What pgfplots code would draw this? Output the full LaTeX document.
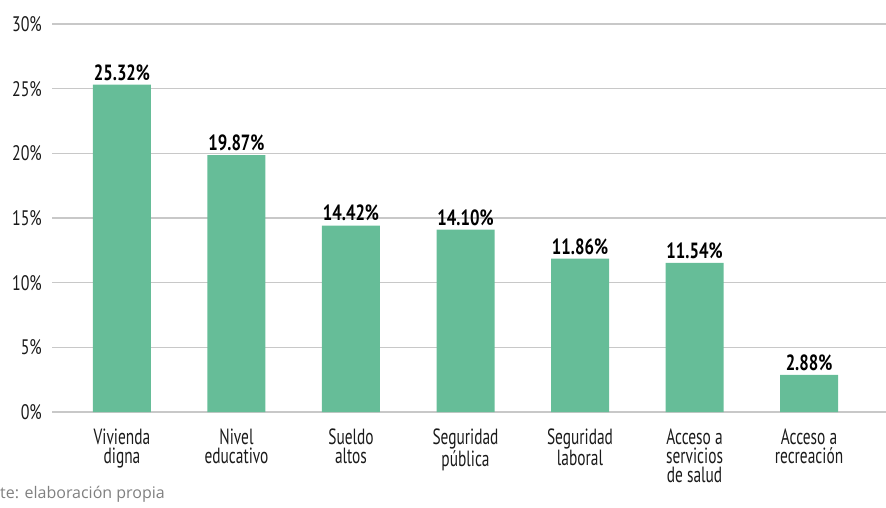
\documentclass[border=0pt]{standalone}
\usepackage{pgfplots}
\pgfplotsset{compat=1.18}
\usepackage{fontspec}
\setmainfont{PT Sans}[FakeStretch=0.76]
\newfontfamily\catfont{PT Sans}[FakeStretch=0.70]
\newfontfamily\footfont{Open Sans}
\definecolor{barcol}{HTML}{66BD98}
\definecolor{gridcol}{HTML}{C8C8C8}
\definecolor{footcol}{HTML}{808080}
\definecolor{txt}{HTML}{1A1A1A}
\newlength\fuenw
\begin{document}
\settowidth{\fuenw}{\footfont\fontsize{16}{18}\selectfont Fuen}%
\begin{tikzpicture}[x=1pt,y=1pt]
\useasboundingbox (0,0) rectangle (886,507);
\begin{axis}[
  at={(52pt,95pt)}, anchor=south west,
  scale only axis, width=834pt, height=388pt,
  xmin=-0.611, xmax=6.672, ymin=0, ymax=30,
  ytick={0,5,...,30},
  xtick={0,...,6},
  xticklabels={Vivienda\\digna, Nivel\\educativo, Sueldo\\altos, Seguridad\\pública, Seguridad\\laboral, Acceso a\\servicios\\de salud, Acceso a\\recreación},
  axis line style={draw=none},
  major tick length=0pt,
  ymajorgrids, major grid style={gridcol, line width=1.1pt},
  /pgf/number format/assume math mode=true,
  yticklabel={\pgfmathprintnumber{\tick}\%},
  yticklabel style={anchor=east, inner sep=0pt, xshift=-10pt, text=txt, font=\fontsize{21}{21}\selectfont},
  xticklabel style={anchor=north, align=center, inner sep=0pt, yshift=-17pt, text=txt, font=\catfont\fontsize{22}{19}\selectfont},
  ybar, bar width=58pt, bar shift=0pt,
  nodes near coords={\pgfmathprintnumber[fixed,precision=2,fixed zerofill]{\pgfplotspointmeta}\%},
  nodes near coords style={anchor=south, inner sep=0pt, yshift=4pt, font=\bfseries\fontsize{22}{22}\selectfont, text=black, /pgf/number format/assume math mode=true},
  clip=false,
]
\addplot[fill=barcol, draw=none] coordinates {(0,25.32) (1,19.87) (2,14.42) (3,14.10) (4,11.86) (5,11.54) (6,2.88)};
\end{axis}
\node[anchor=base west, inner sep=0pt, text=footcol, font=\footfont\fontsize{16}{18}\selectfont] at (-\fuenw,9) {Fuente: elaboración propia};
\end{tikzpicture}
\end{document}
